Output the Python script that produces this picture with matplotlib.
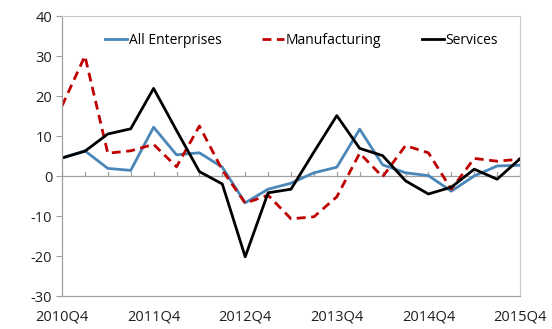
import numpy as np
import matplotlib.pyplot as plt

plt.rcParams['font.family'] = ['Open Sans', 'DejaVu Sans']
plt.rcParams['axes.unicode_minus'] = False

# quarters 2010Q4 .. 2015Q4
quarters = ['2010Q4', '2011Q1', '2011Q2', '2011Q3', '2011Q4', '2012Q1', '2012Q2',
            '2012Q3', '2012Q4', '2013Q1', '2013Q2', '2013Q3', '2013Q4', '2014Q1',
            '2014Q2', '2014Q3', '2014Q4', '2015Q1', '2015Q2', '2015Q3', '2015Q4']

all_enterprises = [4.5, 6.3, 1.9, 1.4, 12.2, 5.3, 5.8, 2.2, -6.7, -3.3, -1.8,
                   0.8, 2.2, 11.7, 2.8, 0.8, 0.1, -3.8, 0.0, 2.5, 2.7]
manufacturing = [17.5, 30.0, 5.7, 6.3, 7.9, 2.3, 12.5, 1.5, -6.8, -4.8, -10.7,
                 -10.2, -5.2, 5.7, -0.2, 7.6, 5.8, -3.3, 4.4, 3.7, 4.2]
services = [4.5, 6.2, 10.5, 11.8, 21.9, 11.4, 1.1, -2.0, -20.2, -4.2, -3.3,
            6.0, 15.1, 6.9, 5.1, -1.2, -4.5, -2.8, 1.7, -0.8, 4.3]

x = np.arange(len(quarters))

fig = plt.figure(figsize=(5.52, 3.29), dpi=100)
ax = fig.add_axes([62 / 552, 1 - 296 / 329, 458 / 552, 280 / 329])

ax.plot(x, all_enterprises, color='#4a86b8', lw=2.0, label='All Enterprises')
ax.plot(x, manufacturing, color='#c00000', lw=2.0, ls=(0, (3.2, 2)), label='Manufacturing')
ax.plot(x, services, color='black', lw=2.0, label='Services')

# zero line with small upward tick marks at every quarter
ax.axhline(0, color='#a0a0a0', lw=0.9, zorder=0)
for xi in x:
    ax.plot([xi, xi], [0, 1.1], color='#a0a0a0', lw=0.9, zorder=0)

ax.set_xlim(0, 20)
ax.set_ylim(-30, 40)
ax.set_yticks(range(-30, 41, 10))
ax.set_xticks(x[::4])
ax.set_xticklabels(quarters[::4])
ax.tick_params(axis='x', length=0, pad=10, labelsize=10.5, colors='#202020')
ax.tick_params(axis='y', length=4, direction='out', color='#a0a0a0', labelsize=10.5,
               labelcolor='#202020', pad=3)

for s in ['top', 'right']:
    ax.spines[s].set_color('#c8c8c8')
    ax.spines[s].set_linewidth(0.8)
for s in ['left', 'bottom']:
    ax.spines[s].set_color('#a0a0a0')
    ax.spines[s].set_linewidth(0.9)

ax.legend(ncol=3, loc='upper center', bbox_to_anchor=(0.523, 1.0), frameon=False,
          handlelength=1.6, handletextpad=0.12, columnspacing=2.9, fontsize=10,
          borderaxespad=0.8)

fig.savefig('out.png', dpi=100)
